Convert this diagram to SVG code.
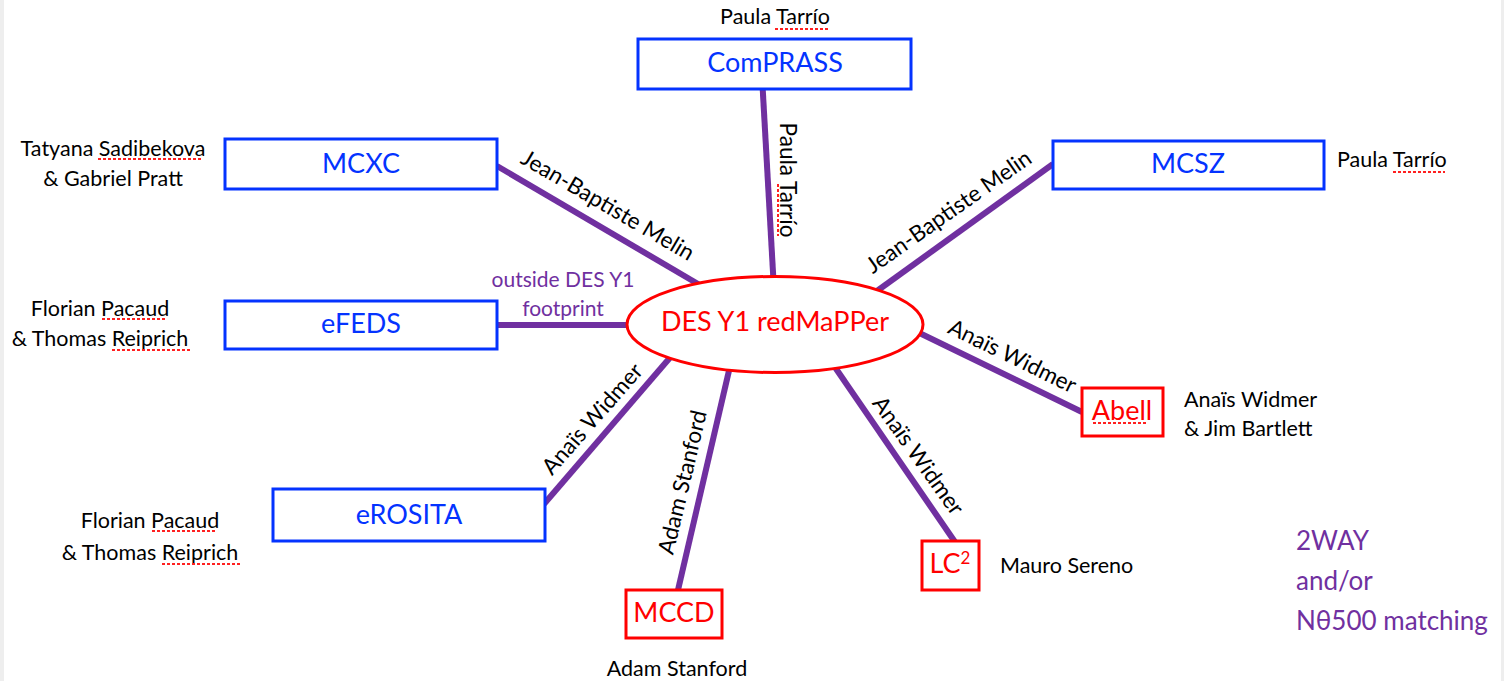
<svg xmlns="http://www.w3.org/2000/svg" width="1504" height="681" viewBox="0 0 1504 681">
<style>
text{font-family:Lato,"Liberation Sans",sans-serif}
.bbox{fill:#fff;stroke:#0433ff;stroke-width:3}
.rbox{fill:#fff;stroke:#ff0000;stroke-width:3}
.bl{fill:#0433ff;font-size:27px;text-anchor:middle}
.rl{fill:#ff0000;font-size:27px;text-anchor:middle}
.nm{fill:#000;font-size:21.5px}
.c{text-anchor:middle}
.cl{fill:#000;font-size:22.5px;text-anchor:middle}
.pu{fill:#7030a0}
.con line{stroke:#7030a0;stroke-width:6;stroke-linecap:butt}
.sp{stroke:#ff2020;stroke-width:2;stroke-dasharray:3 2;fill:none}
</style>
<rect x="0" y="0" width="1504" height="681" fill="#fff"/>
<rect x="0" y="0" width="4" height="681" fill="#eeeeee"/>
<rect x="1501" y="0" width="3" height="681" fill="#eeeeee"/>

<g id="connectors" class="con">
<line x1="762.7" y1="89" x2="774" y2="290"/>
<line x1="497" y1="166" x2="710" y2="291"/>
<line x1="1053" y1="164" x2="870" y2="296"/>
<line x1="497" y1="325" x2="640" y2="325"/>
<line x1="1082" y1="412" x2="905" y2="326"/>
<line x1="955" y1="542" x2="830" y2="360"/>
<line x1="678" y1="590" x2="731" y2="362"/>
<line x1="544" y1="504" x2="680" y2="346"/>
<text class="cl" transform="translate(604 212) rotate(30.3)">Jean-Baptiste Melin</text>
<text class="cl" transform="translate(780 180) rotate(90)">Paula Tarrío</text>
<text class="cl" transform="translate(953 218) rotate(-35)">Jean-Baptiste Melin</text>
<text class="cl" transform="translate(1009 363) rotate(26)">Anaïs Widmer</text>
<text class="cl" transform="translate(912 460) rotate(54.5)">Anaïs Widmer</text>
<text class="cl" transform="translate(598 424) rotate(-48.6)">Anaïs Widmer</text>
<text class="cl" transform="translate(690 484) rotate(-76.6)">Adam Stanford</text>
<line class="sp" x1="778" y1="184" x2="778" y2="236" style="stroke:#ff2020;stroke-width:2;stroke-dasharray:3 2"/>
<text class="pu c" x="563" y="287" font-size="21px">outside DES Y1</text>
<text class="pu c" x="563" y="316" font-size="21px">footprint</text>
</g>

<g id="center">
<ellipse cx="775" cy="324.5" rx="148" ry="48" fill="#fff" stroke="#ff0000" stroke-width="3"/>
<text class="rl" x="775" y="331">DES Y1 redMaPPer</text>
</g>

<g id="compass">
<rect class="bbox" x="638" y="39" width="273" height="50"/>
<text class="bl" x="775" y="72">ComPRASS</text>
<text class="nm c" x="775" y="24">Paula Tarrío</text>
<path class="sp" d="M775 29 H828"/>
</g>

<g id="mcxc">
<rect class="bbox" x="225" y="139" width="272" height="50"/>
<text class="bl" x="361" y="173">MCXC</text>
<text class="nm c" x="113" y="156">Tatyana Sadibekova</text>
<text class="nm c" x="113" y="186">&amp; Gabriel Pratt</text>
<path class="sp" d="M98 159 H203"/>
</g>

<g id="mcsz">
<rect class="bbox" x="1053" y="141" width="271" height="48"/>
<text class="bl" x="1188" y="173">MCSZ</text>
<text class="nm" x="1337" y="167">Paula Tarrío</text>
<path class="sp" d="M1393 172 H1445"/>
</g>

<g id="efeds">
<rect class="bbox" x="225" y="301" width="272" height="48"/>
<text class="bl" x="361" y="333">eFEDS</text>
<text class="nm c" x="100" y="316">Florian Pacaud</text>
<text class="nm c" x="100" y="346">&amp; Thomas Reiprich</text>
<path class="sp" d="M102 319 H167 M112 350 H191"/>
</g>

<g id="erosita">
<rect class="bbox" x="273" y="489" width="272" height="52"/>
<text class="bl" x="409" y="524">eROSITA</text>
<text class="nm c" x="150" y="528">Florian Pacaud</text>
<text class="nm c" x="150" y="560">&amp; Thomas Reiprich</text>
<path class="sp" d="M152 531 H216 M162 564 H240"/>
</g>

<g id="abell">
<rect class="rbox" x="1082" y="388" width="81" height="48"/>
<text class="rl" x="1122" y="420">Abell</text>
<path class="sp" d="M1093 423 H1148"/>
<text class="nm" x="1184" y="407">Anaïs Widmer</text>
<text class="nm" x="1184" y="436">&amp; Jim Bartlett</text>
</g>

<g id="lc2">
<rect class="rbox" x="922" y="541" width="57" height="49"/>
<text class="rl" x="950" y="573">LC<tspan font-size="17px" dy="-9">2</tspan></text>
<text class="nm" x="1000" y="573">Mauro Sereno</text>
</g>

<g id="mccd">
<rect class="rbox" x="626" y="590" width="96" height="48"/>
<text class="rl" x="674" y="622">MCCD</text>
<text class="nm c" x="677" y="676">Adam Stanford</text>
</g>

<g id="legend">
<text class="pu" x="1296" y="550" font-size="26px">2WAY</text>
<text class="pu" x="1296" y="590" font-size="26px">and/or</text>
<text class="pu" x="1296" y="630" font-size="26px">Nθ500 matching</text>
</g>
</svg>
